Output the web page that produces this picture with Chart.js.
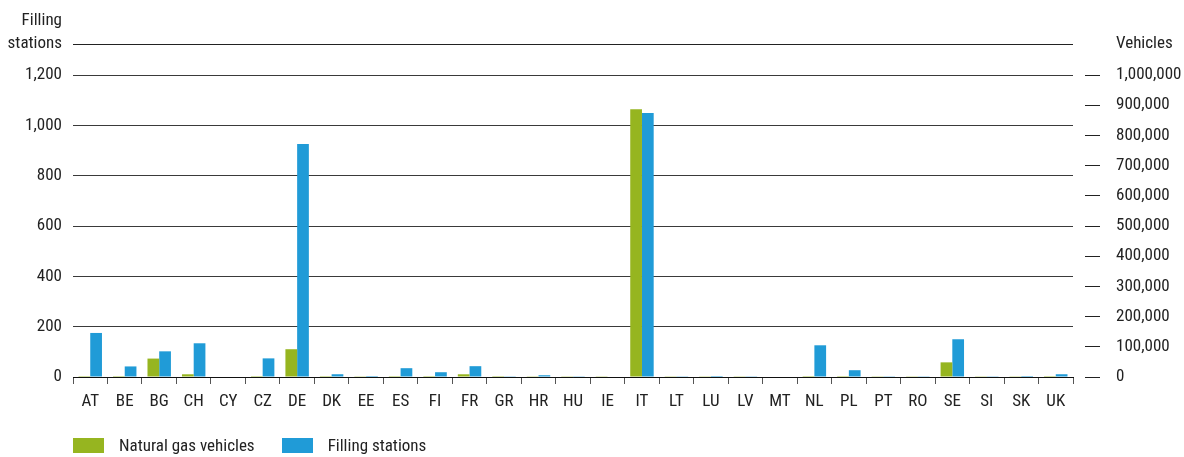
<!DOCTYPE html>
<html>
<head>
<meta charset="utf-8">
<script src="https://cdn.jsdelivr.net/npm/chart.js@4.4.0/dist/chart.umd.min.js"></script>
<style>
  html, body { margin: 0; padding: 0; background: #ffffff; }
  #wrap { width: 1184px; height: 457px; position: relative; }
  #legend {
    position: absolute; left: 73px; top: 437px; display: flex; gap: 0;
    font-family: 'Roboto Condensed', 'DejaVu Sans Condensed', sans-serif;
    font-size: 17px; color: #222222; line-height: 17px;
  }
  #legend .item { display: flex; align-items: center; margin-right: 27px; }
  #legend .box { width: 31px; height: 15px; margin-right: 15px; }
</style>
</head>
<body>
<div id="wrap">
  <canvas id="gasChart" width="1184" height="457"></canvas>
  <div id="legend"></div>
</div>
<script>
// Country codes along the x axis
const countries = ['AT', 'BE', 'BG', 'CH', 'CY', 'CZ', 'DE', 'DK', 'EE', 'ES', 'FI', 'FR', 'GR', 'HR', 'HU',
    'IE', 'IT', 'LT', 'LU', 'LV', 'MT', 'NL', 'PL', 'PT', 'RO', 'SE', 'SI', 'SK', 'UK'];

// Natural gas vehicles (right axis)
const vehicles = [3000, 3000, 61000, 9000, 0, 3000, 92000, 3000, 2500, 3000, 3000, 9000, 3000, 2500, 2500,
    2500, 887000, 2500, 2500, 2500, 0, 3000, 3000, 2500, 2500, 48500, 2500, 2500, 3000];

// Filling stations (left axis)
const stations = [175, 42, 102, 134, 0, 74, 926, 11, 4, 35, 19, 43, 3, 7, 3,
    0, 1049, 3, 4, 3, 0, 126, 27, 3, 3, 150, 3, 4, 11];

const leftTicks = [0, 200, 400, 600, 800, 1000, 1200];
const rightTicks = [0, 100000, 200000, 300000, 400000, 500000, 600000, 700000, 800000, 900000, 1000000];

const FONT = "'Roboto Condensed', 'DejaVu Sans Condensed', sans-serif";
const TEXT = '#222222';

// Header line and axis titles above the plot
const headerPlugin = {
    id: 'header',
    afterDraw(chart) {
        const { ctx, chartArea } = chart;
        const y = chartArea.top - 31;
        ctx.save();
        ctx.strokeStyle = '#222222';
        ctx.lineWidth = 1;
        ctx.beginPath();
        ctx.moveTo(chartArea.left, y + 0.5);
        ctx.lineTo(chartArea.right, y + 0.5);
        ctx.stroke();
        ctx.font = `17px ${FONT}`;
        ctx.fillStyle = TEXT;
        ctx.textBaseline = 'middle';
        ctx.textAlign = 'right';
        ctx.fillText('Filling', chartArea.left - 11, y - 23);
        ctx.fillText('stations', chartArea.left - 11, y);
        ctx.textAlign = 'left';
        ctx.fillText('Vehicles', chartArea.right + 43, y);
        ctx.restore();
    }
};

const chart = new Chart(document.getElementById('gasChart').getContext('2d'), {
    type: 'bar',
    data: {
        labels: countries,
        datasets: [{
            label: 'Natural gas vehicles',
            data: vehicles,
            backgroundColor: '#96b520',
            yAxisID: 'yRight',
            categoryPercentage: 0.68,
            barPercentage: 1
        }, {
            label: 'Filling stations',
            data: stations,
            backgroundColor: '#209bd7',
            yAxisID: 'yLeft',
            categoryPercentage: 0.68,
            barPercentage: 1
        }]
    },
    options: {
        responsive: false,
        animation: false,
        layout: { padding: { top: 75, left: 0, right: 0, bottom: 0 } },
        plugins: {
            legend: { display: false },
            tooltip: { enabled: false }
        },
        scales: {
            x: {
                grid: {
                    display: true,
                    offset: true,
                    drawOnChartArea: false,
                    tickLength: 7,
                    color: '#555555'
                },
                border: { display: true, color: '#111111', width: 1 },
                ticks: {
                    color: TEXT,
                    padding: 8,
                    font: { family: FONT, size: 17 },
                    maxRotation: 0,
                    autoSkip: false
                },
                afterFit(scale) { scale.height = 80; }
            },
            yLeft: {
                position: 'left',
                min: 0,
                max: 1200,
                afterBuildTicks(scale) { scale.ticks = leftTicks.map(v => ({ value: v })); },
                grid: { color: '#3a3a3a', drawTicks: false },
                border: { display: false },
                ticks: {
                    color: TEXT,
                    padding: 11,
                    font: { family: FONT, size: 17 },
                    callback: v => v.toLocaleString('en-US')
                },
                afterFit(scale) { scale.width = 73; }
            },
            yRight: {
                position: 'right',
                min: 0,
                max: 1000000,
                afterBuildTicks(scale) { scale.ticks = rightTicks.map(v => ({ value: v })); },
                grid: {
                    drawOnChartArea: false,
                    tickLength: 27,
                    tickColor: '#222222',
                    tickBorderDash: [15, 12],
                    tickBorderDashOffset: 15
                },
                border: { display: false },
                ticks: {
                    color: TEXT,
                    padding: 16,
                    font: { family: FONT, size: 17 },
                    callback: v => v.toLocaleString('en-US')
                },
                afterFit(scale) { scale.width = 111; }
            }
        }
    },
    plugins: [headerPlugin]
});

// Legend built from the chart's datasets
const legendEl = document.getElementById('legend');
chart.data.datasets.forEach(ds => {
    const item = document.createElement('div');
    item.className = 'item';
    const box = document.createElement('span');
    box.className = 'box';
    box.style.background = ds.backgroundColor;
    const label = document.createElement('span');
    label.textContent = ds.label;
    item.appendChild(box);
    item.appendChild(label);
    legendEl.appendChild(item);
});
</script>
</body>
</html>
